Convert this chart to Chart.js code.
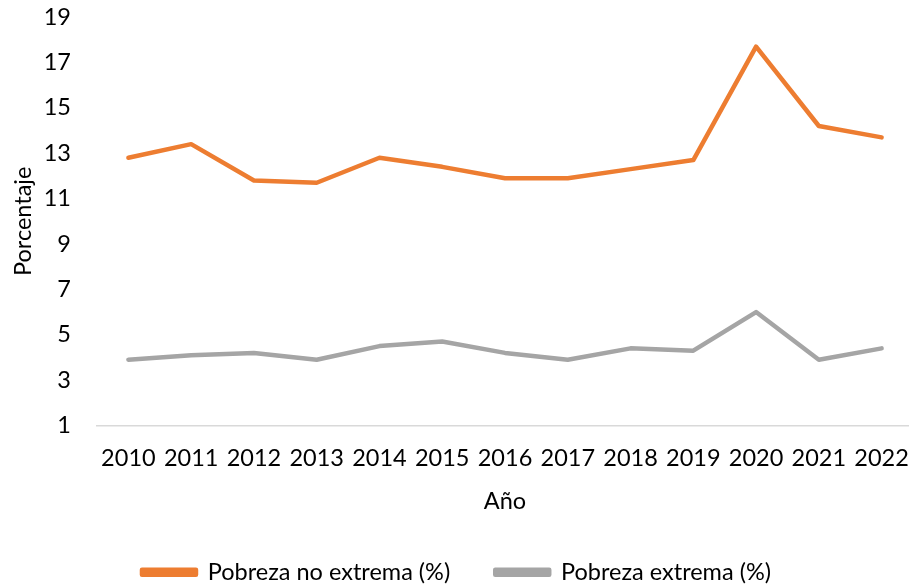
<!DOCTYPE html>
<html>
<head>
<meta charset="utf-8">
<script src="https://cdn.jsdelivr.net/npm/chart.js@4"></script>
<style>
	html, body { margin: 0; padding: 0; background: #fff; overflow: hidden; }
	#wrap { width: 913px; height: 586px; }
</style>
</head>
<body>
<div id="wrap"><canvas id="myChart" width="913" height="586"></canvas></div>
<script>
const years = ['2010', '2011', '2012', '2013', '2014', '2015', '2016', '2017', '2018', '2019', '2020', '2021', '2022']
const noExtrema = [12.8, 13.4, 11.8, 11.7, 12.8, 12.4, 11.9, 11.9, 12.3, 12.7, 17.7, 14.2, 13.7]
const extrema = [3.9, 4.1, 4.2, 3.9, 4.5, 4.7, 4.2, 3.9, 4.4, 4.3, 6.0, 3.9, 4.4]
const seriesNames = ['Pobreza no extrema (%)', 'Pobreza extrema (%)']

const font = { family: 'Lato', size: 23.5 }

new Chart(document.getElementById('myChart'), {
	type: 'line',
	data: {
		labels: years,
		datasets: [
			{
				label: seriesNames[0],
				data: noExtrema,
				borderColor: '#ed7d31',
				backgroundColor: '#ed7d31',
				borderWidth: 4.5,
				pointRadius: 0,
				borderCapStyle: 'round',
				borderJoinStyle: 'round',
			},
			{
				label: seriesNames[1],
				data: extrema,
				borderColor: '#a5a5a5',
				backgroundColor: '#a5a5a5',
				borderWidth: 4.5,
				pointRadius: 0,
				borderCapStyle: 'round',
				borderJoinStyle: 'round',
			},
		],
	},
	options: {
		responsive: false,
		animation: false,
		layout: {
			padding: { top: 3, right: 0, bottom: -8, left: 0 },
		},
		scales: {
			x: {
				offset: true,
				grid: { display: false, drawTicks: true, tickLength: 16 },
				border: { display: true, color: '#d9d9d9', width: 1.5 },
				ticks: { color: '#000', font: font, padding: 3, maxRotation: 0, autoSkip: false },
				title: { display: true, text: 'Año', color: '#000', font: font, padding: { top: 14, bottom: 0 } },
				afterFit: (scale) => { scale.height = 90 },
			},
			y: {
				min: 1,
				max: 19,
				grid: { display: false, drawTicks: true, tickLength: 23 },
				border: { display: false },
				ticks: { stepSize: 2, color: '#000', font: font, padding: 3 },
				title: { display: true, text: 'Porcentaje', color: '#000', font: font, padding: { top: 9, bottom: 0 } },
				afterFit: (scale) => { scale.width = 97 },
			},
		},
		plugins: {
			legend: {
				position: 'bottom',
				labels: {
					color: '#000',
					font: font,
					boxWidth: 54,
					boxHeight: 5,
					padding: 45,
				},
			},
			tooltip: { enabled: false },
		},
	},
})
</script>
</body>
</html>
